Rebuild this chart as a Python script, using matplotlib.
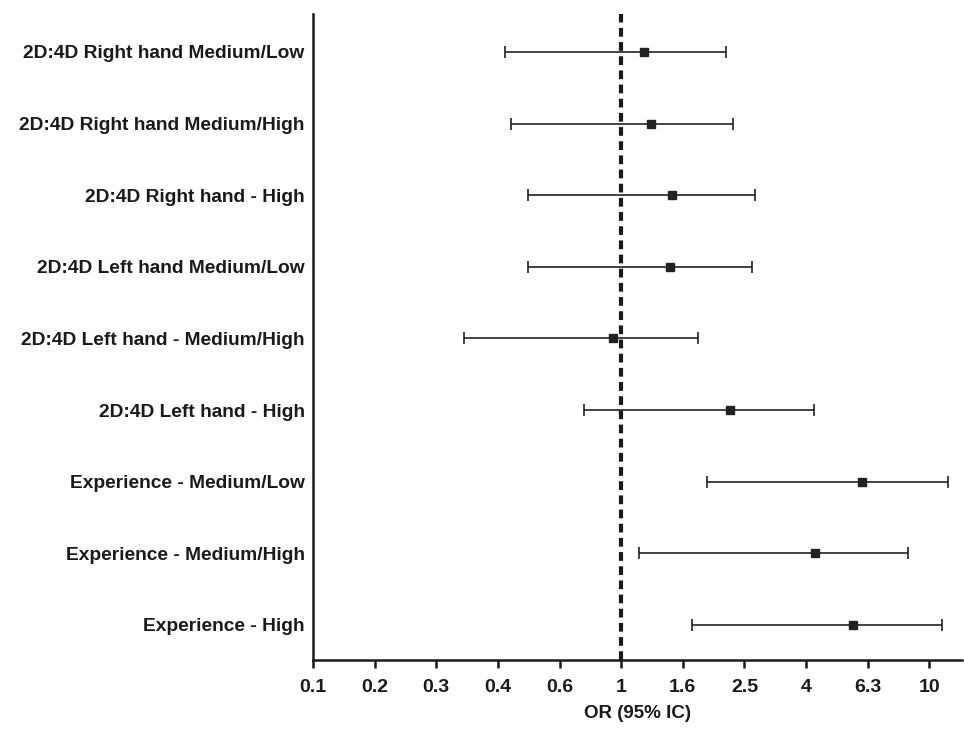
import numpy as np
import matplotlib
matplotlib.use("Agg")
import matplotlib.pyplot as plt

plt.rcParams['font.family'] = ['Liberation Sans', 'DejaVu Sans']

labels = ["2D:4D Right hand Medium/Low",
          "2D:4D Right hand Medium/High",
          "2D:4D Right hand - High",
          "2D:4D Left hand Medium/Low",
          "2D:4D Left hand - Medium/High",
          "2D:4D Left hand - High",
          "Experience - Medium/Low",
          "Experience - Medium/High",
          "Experience - High"]
odds = [1.19, 1.25, 1.46, 1.44, 0.94, 2.25, 6.03, 4.24, 5.67]
lower = [0.42, 0.44, 0.50, 0.50, 0.31, 0.76, 1.90, 1.14, 1.70]
upper = [2.19, 2.30, 2.71, 2.65, 1.78, 4.21, 11.5, 8.49, 10.96]

xticks = 10 ** np.linspace(-1, 1, 11)
xtick_labels = ["0.1", "0.2", "0.3", "0.4", "0.6", "1", "1.6", "2.5", "4", "6.3", "10"]

fig = plt.figure(figsize=(9.64, 7.46), dpi=100)
ax = fig.add_axes([0.3247, 0.1153, 0.673, 0.866])

y = np.arange(len(labels))
odds = np.array(odds)
err = [odds - np.array(lower), np.array(upper) - odds]

ax.axvline(1, color="#1a1a1a", lw=3, linestyle=(0, (2.1, 1.3)), zorder=1)
ax.errorbar(odds, y, xerr=err, fmt="s", color="#222222", ecolor="#222222",
            elinewidth=1.2, capsize=4, capthick=1.2, markersize=5.5, zorder=3)

ax.set_xscale("log")
ax.set_xlim(0.1, 10 ** 1.105)
ax.set_ylim(8.49, -0.53)
ax.set_xticks(xticks)
ax.set_xticklabels(xtick_labels)
ax.minorticks_off()
ax.set_yticks(y)
ax.set_yticklabels(labels)

for s in ["top", "right"]:
    ax.spines[s].set_visible(False)
for s in ["left", "bottom"]:
    ax.spines[s].set_linewidth(1.8)
    ax.spines[s].set_color("#1a1a1a")

ax.tick_params(axis="y", length=0, pad=6)
ax.tick_params(axis="x", length=6, width=1.8, pad=8, colors="#1a1a1a")
for t in ax.get_yticklabels():
    t.set_fontweight("bold")
    t.set_fontsize(13.8)
    t.set_color("#1a1a1a")
for t in ax.get_xticklabels():
    t.set_fontweight("bold")
    t.set_fontsize(14)
    t.set_color("#1a1a1a")

ax.set_xlabel("OR (95% IC)", fontsize=13.5, fontweight="bold", labelpad=6, color="#1a1a1a")

fig.savefig("out.png", dpi=100)
